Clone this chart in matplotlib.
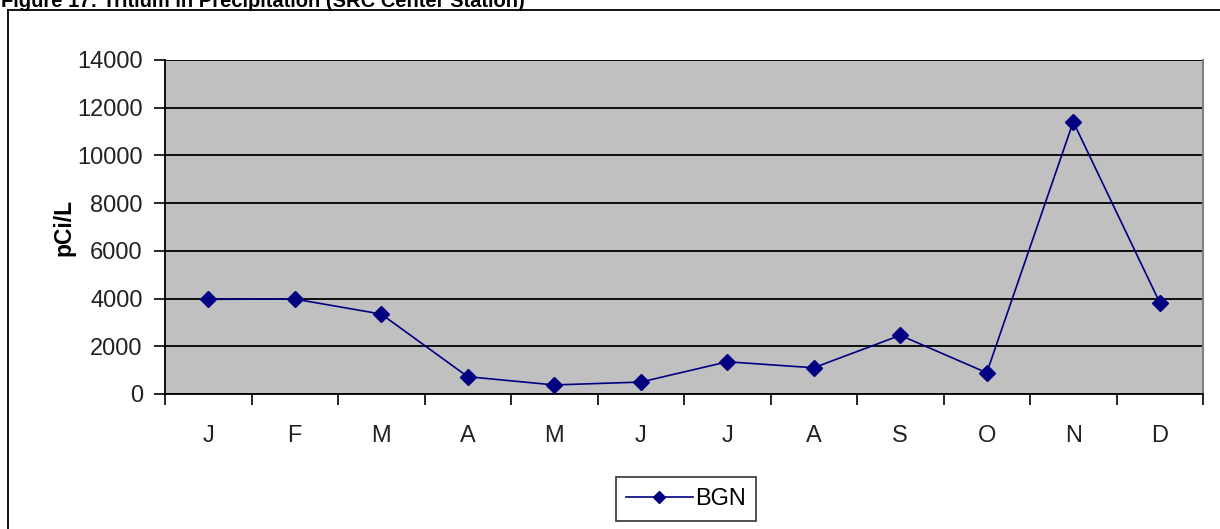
import matplotlib
matplotlib.use("Agg")
from matplotlib import pyplot as plt
from matplotlib.lines import Line2D

# data
months = ["J", "F", "M", "A", "M", "J", "J", "A", "S", "O", "N", "D"]
bgn = [3970, 3980, 3350, 725, 380, 500, 1350, 1100, 2460, 890, 11410, 3830]
y_ticks = [0, 2000, 4000, 6000, 8000, 10000, 12000, 14000]

W, H = 1220, 529
plt.rcParams["font.family"] = ["Liberation Sans", "DejaVu Sans"]

fig = plt.figure(figsize=(W / 100, H / 100), dpi=100)

# outer chart frame (only left and top edges are visible in the crop)
fig.add_artist(Line2D([8 / W, 8 / W], [0, 1 - 10 / H], color="black", lw=1.3))
fig.add_artist(Line2D([8 / W, 1], [1 - 10 / H, 1 - 10 / H], color="black", lw=1.3))

# title, cut off at the top of the image like in the source
fig.text(1 / W, 1 - 7 / H, "Figure 17: Tritium in Precipitation (SRC Center Station)",
         fontsize=14.5, fontweight="bold", ha="left", va="baseline")

ax = fig.add_axes([165 / W, 1 - 394 / H, (1203 - 165) / W, 334 / H])
ax.set_facecolor("#C0C0C0")

x = list(range(len(months)))
ax.plot(x, bgn, color="#000080", lw=1.2, marker="D", markersize=8,
        markerfacecolor="#000080", markeredgecolor="#000080", label="BGN", zorder=3)

ax.set_xlim(-0.5, len(months) - 0.5)
ax.set_ylim(0, 14000)
ax.set_yticks(y_ticks)
ax.set_yticklabels([str(v) for v in y_ticks], fontsize=17, color="#222222")
ax.yaxis.grid(True, color="black", lw=1.3)
ax.set_axisbelow(True)

# tick marks on category boundaries, labels centred on categories
ax.set_xticks([i - 0.5 for i in range(len(months) + 1)])
ax.set_xticklabels([])
ax.set_xticks(x, minor=True)
ax.set_xticklabels(months, minor=True, fontsize=17, color="#222222")
ax.tick_params(axis="x", which="minor", length=0, pad=22)
ax.tick_params(axis="x", which="major", length=8, width=1.2, direction="out")
ax.tick_params(axis="y", length=8, width=1.2, direction="out", pad=8)

ax.set_ylabel("pCi/L", fontsize=16.5, fontweight="bold", labelpad=1)

for side in ["left", "bottom"]:
    ax.spines[side].set_color("black")
    ax.spines[side].set_linewidth(1.3)
ax.spines["top"].set_visible(False)
ax.spines["right"].set_color("#808080")
ax.spines["right"].set_linewidth(1.5)

leg = fig.legend(loc="center", bbox_to_anchor=(686 / W, 1 - 499 / H), fontsize=17,
                 frameon=True, fancybox=False, handlelength=2.8, handletextpad=0.1,
                 borderpad=0.45, markerscale=0.8)
leg.get_frame().set_edgecolor("black")
leg.get_frame().set_linewidth(1.2)

fig.savefig("out.png", dpi=100)
